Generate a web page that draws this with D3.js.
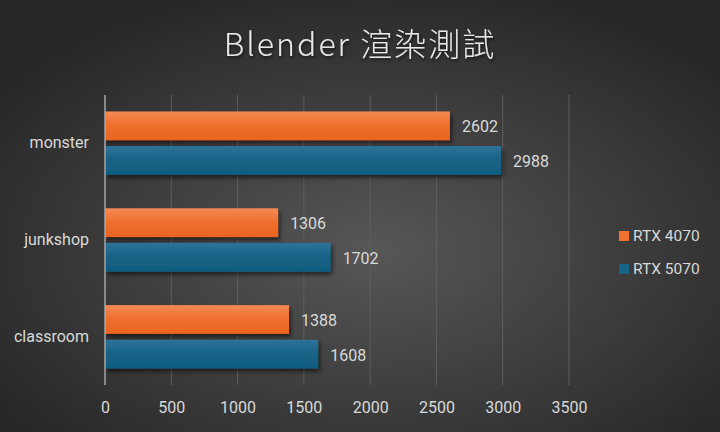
<!DOCTYPE html>
<html><head><meta charset="utf-8">
<script src="https://cdn.jsdelivr.net/npm/d3@7"></script>
<style>html,body{margin:0;padding:0;background:#333;}svg{display:block;}</style>
</head><body>
<svg id="chart" width="720" height="432"></svg>
<script>
const categories = ["monster", "junkshop", "classroom"];
const seriesNames = ["RTX 4070", "RTX 5070"];
const rtx4070 = [2602, 1306, 1388];
const rtx5070 = [2988, 1702, 1608];
const xTicks = [0, 500, 1000, 1500, 2000, 2500, 3000, 3500];
const title = "Blender 渲染測試";

const W = 720, H = 432;
const svg = d3.select("#chart");
const defs = svg.append("defs");

const bg = defs.append("radialGradient").attr("id","bg").attr("cx","52%").attr("cy","58%").attr("r","65%");
bg.append("stop").attr("offset","0%").attr("stop-color","#575757");
bg.append("stop").attr("offset","100%").attr("stop-color","#262626");
svg.append("rect").attr("width",W).attr("height",H).attr("fill","url(#bg)");

const gO = defs.append("linearGradient").attr("id","gO").attr("x1",0).attr("y1",0).attr("x2",0).attr("y2",1);
gO.append("stop").attr("offset","0%").attr("stop-color","#f48a55");
gO.append("stop").attr("offset","45%").attr("stop-color","#ef702f");
gO.append("stop").attr("offset","100%").attr("stop-color","#ea6420");
const gB = defs.append("linearGradient").attr("id","gB").attr("x1",0).attr("y1",0).attr("x2",0).attr("y2",1);
gB.append("stop").attr("offset","0%").attr("stop-color","#2f7398");
gB.append("stop").attr("offset","45%").attr("stop-color","#176487");
gB.append("stop").attr("offset","100%").attr("stop-color","#0f5c80");
const sh = defs.append("filter").attr("id","sh").attr("x","-5%").attr("y","-20%").attr("width","115%").attr("height","160%");
sh.append("feDropShadow").attr("dx",2).attr("dy",3).attr("stdDeviation",2).attr("flood-color","#000").attr("flood-opacity",0.55);
const tsh = defs.append("filter").attr("id","tsh");
tsh.append("feDropShadow").attr("dx",1).attr("dy",2).attr("stdDeviation",1.5).attr("flood-color","#000").attr("flood-opacity",0.6);

const pLeft = 105, pRight = 569, pTop = 95, pBottom = 385;
const x = d3.scaleLinear().domain([0, 3500]).range([pLeft, pRight]);
const y = d3.scaleBand().domain(categories).range([pTop, pBottom]).paddingInner(0.345).paddingOuter(0.17);
const sub = d3.scaleBand().domain(seriesNames).range([0, y.bandwidth()]).paddingInner(0.17);
const FONT = "Roboto, sans-serif";

// gridlines
svg.append("g").selectAll("line").data(xTicks.slice(1)).join("line")
  .attr("x1", d => x(d)).attr("x2", d => x(d)).attr("y1", pTop).attr("y2", pBottom)
  .attr("stroke", "#5e5e5e").attr("stroke-width", 1);

// x tick labels via axis
const xAxis = d3.axisBottom(x).tickValues(xTicks).tickFormat(d3.format("d")).tickSize(0).tickPadding(0);
const ax = svg.append("g").attr("transform", `translate(0,${pBottom + 17})`).call(xAxis);
ax.select(".domain").remove();
ax.selectAll("text").attr("font-family",FONT).attr("font-size","16px").attr("fill","#d9d9d9").attr("dy","0.71em");

const seriesData = [rtx4070, rtx5070];
const fills = ["url(#gO)", "url(#gB)"];
seriesData.forEach((vals, si) => {
  const g = svg.append("g");
  g.selectAll("rect").data(categories).join("rect")
    .attr("x", x(0))
    .attr("y", (c) => y(c) + sub(seriesNames[si]))
    .attr("width", (c, i) => x(vals[i]) - x(0))
    .attr("height", sub.bandwidth())
    .attr("fill", fills[si])
    .attr("filter", "url(#sh)");
  g.selectAll("text").data(categories).join("text")
    .attr("x", (c, i) => x(vals[i]) + 12)
    .attr("y", (c) => y(c) + sub(seriesNames[si]) + sub.bandwidth() / 2 + 1)
    .attr("dy", "0.35em")
    .attr("font-family",FONT).attr("font-size","16px").attr("fill","#d9d9d9")
    .text((c, i) => vals[i]);
});

// y axis line
svg.append("line").attr("x1", pLeft).attr("x2", pLeft).attr("y1", pTop).attr("y2", pBottom)
  .attr("stroke", "#a6a6a6").attr("stroke-width", 1.5);

// category labels
const yAxis = d3.axisLeft(y).tickSize(0).tickPadding(16);
const ay = svg.append("g").attr("transform", `translate(${pLeft},0)`).call(yAxis);
ay.select(".domain").remove();
ay.selectAll("text").attr("font-family",FONT).attr("font-size","16px").attr("fill","#d9d9d9");

// legend
const legColors = ["#ef702f", "#176487"];
const leg = svg.append("g");
seriesNames.forEach((n, i) => {
  const ly = 236 + i * 33;
  leg.append("rect").attr("x", 619).attr("y", ly - 5).attr("width", 10).attr("height", 10).attr("fill", legColors[i]);
  leg.append("text").attr("x", 633).attr("y", ly).attr("dy","0.35em")
    .attr("font-family",FONT).attr("font-size","15.5px").attr("fill","#d9d9d9").text(n);
});

// title
svg.append("text").attr("x", 360).attr("y", 45).attr("text-anchor","middle").attr("dy","0.35em")
  .attr("font-family","'Noto Sans CJK TC', 'Noto Sans', sans-serif").attr("font-weight", 300)
  .attr("font-size","32px").attr("letter-spacing","2px").attr("fill","#e8e8e8").attr("filter","url(#tsh)")
  .text(title);
</script>
</body></html>
